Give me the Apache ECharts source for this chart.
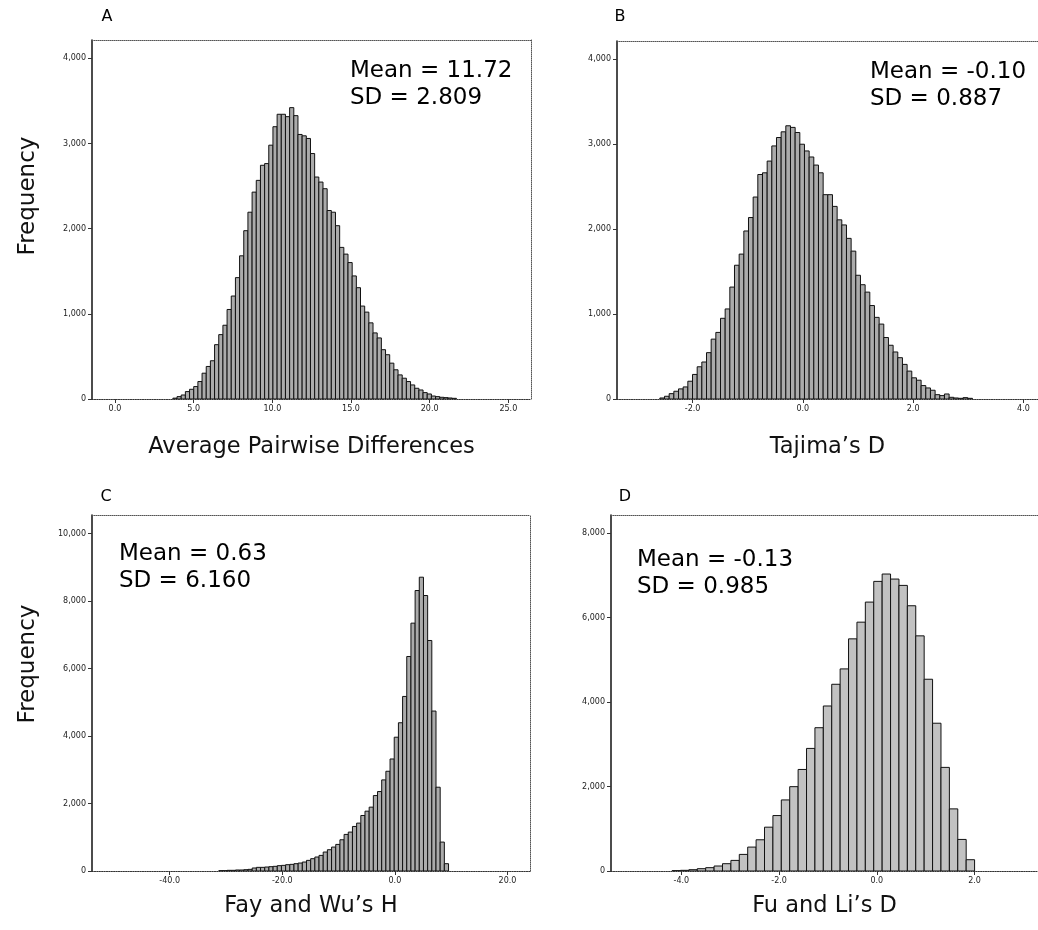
<!DOCTYPE html>
<html><head><meta charset="utf-8">
<script src="https://cdn.jsdelivr.net/npm/echarts@6/dist/echarts.min.js"></script>
<style>html,body{margin:0;padding:0;background:#fff}#c{width:1038px;height:930px}</style>
</head><body><div id="c"></div>
<script>
// ---------- data ----------
const panelLabels = ['A', 'B', 'C', 'D'];
const xAxisTitles = ['Average Pairwise Differences', 'Tajima’s D', 'Fay and Wu’s H', 'Fu and Li’s D'];
const yAxisTitle = 'Frequency';
const statsA = ['Mean = 11.72', 'SD = 2.809'];
const statsB = ['Mean = -0.10', 'SD = 0.887'];
const statsC = ['Mean = 0.63', 'SD = 6.160'];
const statsD = ['Mean = -0.13', 'SD = 0.985'];

// histogram bins: first bin lower edge, bin width (data units), counts
const binStartA = 3.68, binWidthA = 0.265;
const countsA = [10, 28, 47, 87, 114, 146, 205, 303, 382, 449, 638, 756, 866, 1051, 1209, 1425, 1681, 1976, 2193, 2429,
  2567, 2744, 2764, 2980, 3197, 3343, 3343, 3315, 3421, 3327, 3106, 3090, 3059, 2882, 2606, 2547, 2469, 2213, 2193, 2035,
  1780, 1701, 1602, 1445, 1307, 1091, 1020, 894, 776, 717, 579, 520, 421, 343, 283, 244, 205, 165, 126, 106,
  75, 59, 35, 28, 20, 16, 12, 8];

const binStartB = -2.593, binWidthB = 0.0846;
const countsB = [12, 32, 63, 91, 119, 142, 209, 289, 379, 435, 545, 704, 783, 949, 1059, 1316, 1573, 1704, 1976, 2134,
  2375, 2640, 2660, 2798, 2976, 3075, 3142, 3213, 3194, 3134, 2996, 2917, 2846, 2751, 2660, 2403, 2403, 2265, 2107, 2047,
  1889, 1739, 1455, 1344, 1257, 1099, 960, 881, 723, 632, 553, 486, 407, 328, 249, 221, 158, 130, 103, 51,
  40, 59, 20, 12, 8, 16, 8];

const binStartC = -31.28, binWidthC = 0.742;
const countsC = [10, 10, 20, 20, 30, 30, 39, 49, 89, 108, 108, 118, 128, 138, 158, 167, 187, 197, 217, 236,
  266, 315, 365, 414, 463, 562, 631, 709, 788, 926, 1084, 1153, 1320, 1419, 1645, 1773, 1892, 2236, 2355, 2700,
  2956, 3320, 3965, 4393, 5173, 6357, 7345, 8312, 8707, 8164, 6831, 4740, 2483, 857, 217];

const binStartD = -4.19, binWidthD = 0.172;
const countsD = [8, 16, 31, 55, 79, 118, 173, 251, 393, 566, 739, 1037, 1312, 1682, 1996, 2403, 2901, 3391, 3905, 4419,
  4783, 5494, 5889, 6364, 6854, 7028, 6909, 6759, 6277, 5565, 4538, 3497, 2452, 1470, 747, 267];

// axis ranges and tick values
const xRangeA = [-1.46, 26.44], yMaxA = 4215;
const xRangeB = [-3.37, 4.264], yMaxB = 4210;
const xRangeC = [-53.8, 24.0], yMaxC = 10550;
const xRangeD = [-5.44, 3.30], yMaxD = 8425;
const xTicksA = [0, 5, 10, 15, 20, 25];
const xTicksB = [-2, 0, 2, 4];
const xTicksC = [-40, -20, 0, 20];
const xTicksD = [-4, -2, 0, 2];
const yTicksA = [0, 1000, 2000, 3000, 4000];
const yTicksB = [0, 1000, 2000, 3000, 4000];
const yTicksC = [0, 2000, 4000, 6000, 8000, 10000];
const yTicksD = [0, 2000, 4000, 6000, 8000];

// ---------- chart ----------
const panels = [
  { start: binStartA, width: binWidthA, counts: countsA, xr: xRangeA, ymax: yMaxA, xt: xTicksA, yt: yTicksA, stats: statsA,
    grid: { left: 92, top: 40, width: 439, height: 359 }, fill: '#ababab', gap: 37 },
  { start: binStartB, width: binWidthB, counts: countsB, xr: xRangeB, ymax: yMaxB, xt: xTicksB, yt: yTicksB, stats: statsB,
    grid: { left: 617, top: 41, width: 425, height: 358 }, fill: '#ababab', gap: 37 },
  { start: binStartC, width: binWidthC, counts: countsC, xr: xRangeC, ymax: yMaxC, xt: xTicksC, yt: yTicksC, stats: statsC,
    grid: { left: 92, top: 515, width: 438, height: 356 }, fill: '#ababab', gap: 24 },
  { start: binStartD, width: binWidthD, counts: countsD, xr: xRangeD, ymax: yMaxD, xt: xTicksD, yt: yTicksD, stats: statsD,
    grid: { left: 611, top: 515, width: 431, height: 356 }, fill: '#c2c2c2', gap: 24 }
];
const statPos = [[350, 58], [870, 59], [119, 541], [637, 547]];
const letterPos = [[107, 17], [620, 17], [106, 497], [625, 497]];

const fmtThousands = v => String(v).replace(/\B(?=(\d{3})+(?!\d))/g, ',');
const tickFont = { fontSize: 8, color: '#222', fontFamily: 'DejaVu Sans' };

const grids = [], xAxes = [], yAxes = [], series = [], graphics = [];
panels.forEach((p, i) => {
  grids.push(Object.assign({ containLabel: false }, p.grid));
  xAxes.push({
    type: 'value', gridIndex: i, min: p.xr[0], max: p.xr[1], position: 'bottom',
    splitLine: { show: false },
    axisLine: { show: true, onZero: false, lineStyle: { color: '#333', type: 'dotted', width: 1.2 } },
    axisTick: { show: true, length: 4, customValues: p.xt, lineStyle: { color: '#333' } },
    axisLabel: { show: true, customValues: p.xt, margin: 6, formatter: v => v.toFixed(1), ...tickFont },
    name: xAxisTitles[i], nameLocation: 'middle', nameGap: p.gap,
    nameTextStyle: { fontSize: 22.5, color: '#111', fontFamily: 'DejaVu Sans' }
  });
  xAxes.push({
    type: 'value', gridIndex: i, min: p.xr[0], max: p.xr[1], position: 'top',
    splitLine: { show: false }, axisTick: { show: false }, axisLabel: { show: false },
    axisLine: { show: true, onZero: false, lineStyle: { color: '#555', type: 'dotted', width: 1 } }
  });
  yAxes.push({
    type: 'value', gridIndex: i, min: 0, max: p.ymax, position: 'left',
    splitLine: { show: false },
    axisLine: { show: true, onZero: false, lineStyle: { color: '#111', width: 1.5 } },
    axisTick: { show: true, length: 4, customValues: p.yt, lineStyle: { color: '#333' } },
    axisLabel: { show: true, customValues: p.yt, margin: 6, formatter: v => fmtThousands(v), ...tickFont }
  });
  yAxes.push({
    type: 'value', gridIndex: i, min: 0, max: p.ymax, position: 'right',
    splitLine: { show: false }, axisTick: { show: false }, axisLabel: { show: false },
    axisLine: { show: true, onZero: false, lineStyle: { color: '#555', type: 'dotted', width: 1 } }
  });
  const data = p.counts.map((c, k) => [p.start + k * p.width, p.start + (k + 1) * p.width, c]);
  series.push({
    type: 'custom', xAxisIndex: 2 * i, yAxisIndex: 2 * i, data: data,
    encode: { x: [0, 1], y: 2 }, clip: true, silent: true,
    renderItem: (params, api) => {
      const a = api.coord([api.value(0), api.value(2)]);
      const b = api.coord([api.value(1), 0]);
      return {
        type: 'rect',
        shape: { x: a[0], y: a[1], width: b[0] - a[0], height: b[1] - a[1] },
        style: { fill: p.fill, stroke: '#111', lineWidth: 1 }
      };
    }
  });
  graphics.push({
    type: 'text', left: statPos[i][0], top: statPos[i][1],
    style: { text: p.stats.join('\n'), fontSize: 23, lineHeight: 27, fill: '#000', fontFamily: 'DejaVu Sans' }
  });
  graphics.push({
    type: 'text', x: letterPos[i][0], y: letterPos[i][1],
    style: { text: panelLabels[i], fontSize: 16, fill: '#000', fontFamily: 'DejaVu Sans', textAlign: 'center', textVerticalAlign: 'middle' }
  });
});
[[28, 196], [28, 664]].forEach(pos => {
  graphics.push({
    type: 'text', x: pos[0], y: pos[1], rotation: Math.PI / 2,
    style: { text: yAxisTitle, fontSize: 23, fill: '#111', fontFamily: 'DejaVu Sans', textAlign: 'center', textVerticalAlign: 'middle' }
  });
});

const chart = echarts.init(document.getElementById('c'), null, { renderer: 'canvas' });
chart.setOption({
  backgroundColor: '#fff',
  animation: false,
  grid: grids, xAxis: xAxes, yAxis: yAxes, series: series, graphic: graphics
});
</script></body></html>
